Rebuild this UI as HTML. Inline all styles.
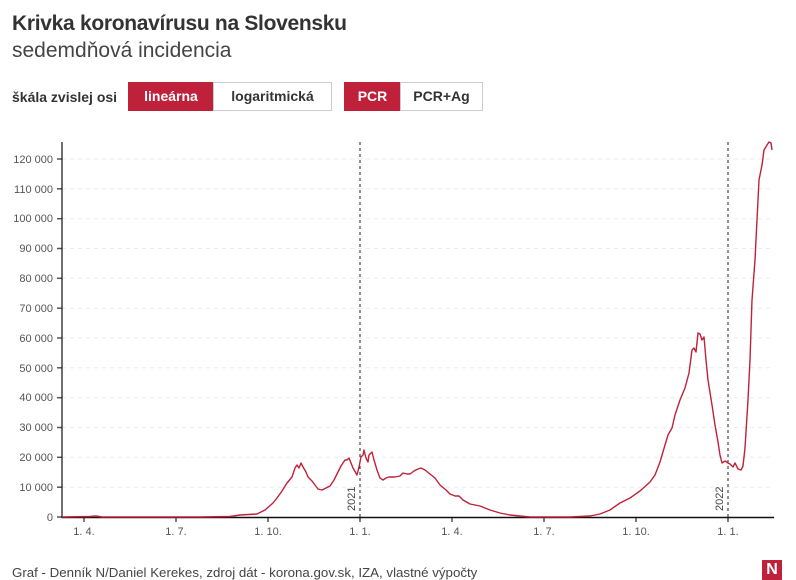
<!DOCTYPE html>
<html><head><meta charset="utf-8">
<style>
body{margin:0;background:#fff;width:796px;height:575px;overflow:hidden;font-family:"Liberation Sans",sans-serif;color:#333;position:relative}
.t{position:absolute;left:12px;top:12px;font-size:21px;font-weight:bold;color:#333;letter-spacing:-0.3px}
.s{position:absolute;left:12px;top:39px;font-size:21px;color:#444}
.lab{position:absolute;left:12px;top:89px;font-size:14px;font-weight:bold;color:#333}
.b{position:absolute;top:82px;height:29px;box-sizing:border-box;border:1px solid #ccc;font-size:14px;font-weight:bold;line-height:27px;text-align:center;color:#333}
.on{background:#c0213a;border-color:#c0213a;color:#fff}
.f{position:absolute;left:12px;top:565px;font-size:13.3px;color:#444}
.logo{position:absolute;left:762px;top:560px;width:20px;height:20px;background:#c0213a;color:#fff;font-weight:bold;font-size:16px;text-align:center;line-height:20px}
</style></head><body>
<div class="t">Krivka koronavírusu na Slovensku</div>
<div class="s">sedemdňová incidencia</div>
<div class="lab">škála zvislej osi</div>
<div class="b on" style="left:128px;width:86px">lineárna</div>
<div class="b" style="left:213px;width:119px;font-weight:bold">logaritmická</div>
<div class="b on" style="left:344px;width:57px">PCR</div>
<div class="b" style="left:400px;width:83px">PCR+Ag</div>
<svg style="position:absolute;left:0;top:0" width="796" height="575">
<g stroke="#ebebeb" stroke-dasharray="4,4" stroke-width="1">
<line x1="62" x2="774" y1="487.2" y2="487.2"/><line x1="62" x2="774" y1="457.3" y2="457.3"/><line x1="62" x2="774" y1="427.5" y2="427.5"/><line x1="62" x2="774" y1="397.7" y2="397.7"/><line x1="62" x2="774" y1="367.8" y2="367.8"/><line x1="62" x2="774" y1="338" y2="338"/><line x1="62" x2="774" y1="308.2" y2="308.2"/><line x1="62" x2="774" y1="278.3" y2="278.3"/><line x1="62" x2="774" y1="248.5" y2="248.5"/><line x1="62" x2="774" y1="218.7" y2="218.7"/><line x1="62" x2="774" y1="188.8" y2="188.8"/><line x1="62" x2="774" y1="159" y2="159"/>
</g>
<g stroke="#555" stroke-width="1.5">
<line x1="57" x2="62" y1="517" y2="517"/><line x1="57" x2="62" y1="487.2" y2="487.2"/><line x1="57" x2="62" y1="457.3" y2="457.3"/><line x1="57" x2="62" y1="427.5" y2="427.5"/><line x1="57" x2="62" y1="397.7" y2="397.7"/><line x1="57" x2="62" y1="367.8" y2="367.8"/><line x1="57" x2="62" y1="338" y2="338"/><line x1="57" x2="62" y1="308.2" y2="308.2"/><line x1="57" x2="62" y1="278.3" y2="278.3"/><line x1="57" x2="62" y1="248.5" y2="248.5"/><line x1="57" x2="62" y1="218.7" y2="218.7"/><line x1="57" x2="62" y1="188.8" y2="188.8"/><line x1="57" x2="62" y1="159" y2="159"/>
<line x1="84" x2="84" y1="517" y2="522"/><line x1="176" x2="176" y1="517" y2="522"/><line x1="268" x2="268" y1="517" y2="522"/><line x1="360" x2="360" y1="517" y2="522"/><line x1="452" x2="452" y1="517" y2="522"/><line x1="544" x2="544" y1="517" y2="522"/><line x1="636" x2="636" y1="517" y2="522"/><line x1="728" x2="728" y1="517" y2="522"/>
</g>
<line x1="62" x2="62" y1="142" y2="518" stroke="#111" stroke-width="1.2"/>
<line x1="62" x2="774" y1="517.5" y2="517.5" stroke="#111" stroke-width="1.5"/>
<g font-size="11" fill="#555" text-anchor="end" font-family="Liberation Sans,sans-serif">
<text x="53" y="521">0</text><text x="53" y="491">10 000</text><text x="53" y="461">20 000</text><text x="53" y="431">30 000</text><text x="53" y="401">40 000</text><text x="53" y="372">50 000</text><text x="53" y="342">60 000</text><text x="53" y="312">70 000</text><text x="53" y="282">80 000</text><text x="53" y="252">90 000</text><text x="53" y="222">100 000</text><text x="53" y="193">110 000</text><text x="53" y="163">120 000</text>
</g>
<g font-size="11" fill="#555" text-anchor="middle" font-family="Liberation Sans,sans-serif">
<text x="84" y="535">1. 4.</text><text x="176" y="535">1. 7.</text><text x="268" y="535">1. 10.</text><text x="360" y="535">1. 1.</text><text x="452" y="535">1. 4.</text><text x="544" y="535">1. 7.</text><text x="636" y="535">1. 10.</text><text x="728" y="535">1. 1.</text>
</g>
<g stroke="#222" stroke-dasharray="3,3" stroke-width="1">
<line x1="360" x2="360" y1="142" y2="517"/><line x1="728" x2="728" y1="142" y2="517"/>
</g>
<g font-size="11" fill="#444" font-family="Liberation Sans,sans-serif">
<text transform="translate(355,511) rotate(-90)">2021</text>
<text transform="translate(723,511) rotate(-90)">2022</text>
</g>
<polyline fill="none" stroke="#c0213a" stroke-width="1.4" stroke-linejoin="round" points="62,517 90,516.5 96,516 102,517 200,517 230,516.5 240,515 257,514 265,510 273,503 277,498 282,491 287,483 292,477 295,468 297,465 299,468 301,463 303,467 306,472 308,477 312,481 315,485 318,489 322,490 326,488 330,486 334,480 338,472 341,466 345,460 347,460 349,458 351,463 353,468 357,475 359,467 361,457 363,455 364,450 366,458 368,462 369,455 372,452 374,460 377,470 380,478 383,480 386,478 389,477 395,477 400,476 403,473 407,474 410,474 414,471 418,469 421,468 425,470 430,474 435,478 440,485 446,490 450,494 455,496 459,496 463,500 470,504 480,506 490,510 500,513 510,515 530,517 570,517 590,516 600,514 610,510 620,503 630,498 640,491 650,482 655,475 660,462 665,445 668,435 672,428 675,415 680,400 685,388 689,373 692,350 694,348 696,352 698,333 700,334 702,340 704,337 706,360 708,380 712,405 715,425 718,442 720,455 722,463 725,461 728,463 730,464 733,467 735,463 738,469 741,470 743,466 745,448 748,400 750,360 752,300 755,260 757,220 759,180 762,165 764,150 767,145 769,142 771,143 772,150"/>
</svg>
<div class="f">Graf - Denník N/Daniel Kerekes, zdroj dát - korona.gov.sk, IZA, vlastné výpočty</div>
<div class="logo">N</div>
</body></html>
